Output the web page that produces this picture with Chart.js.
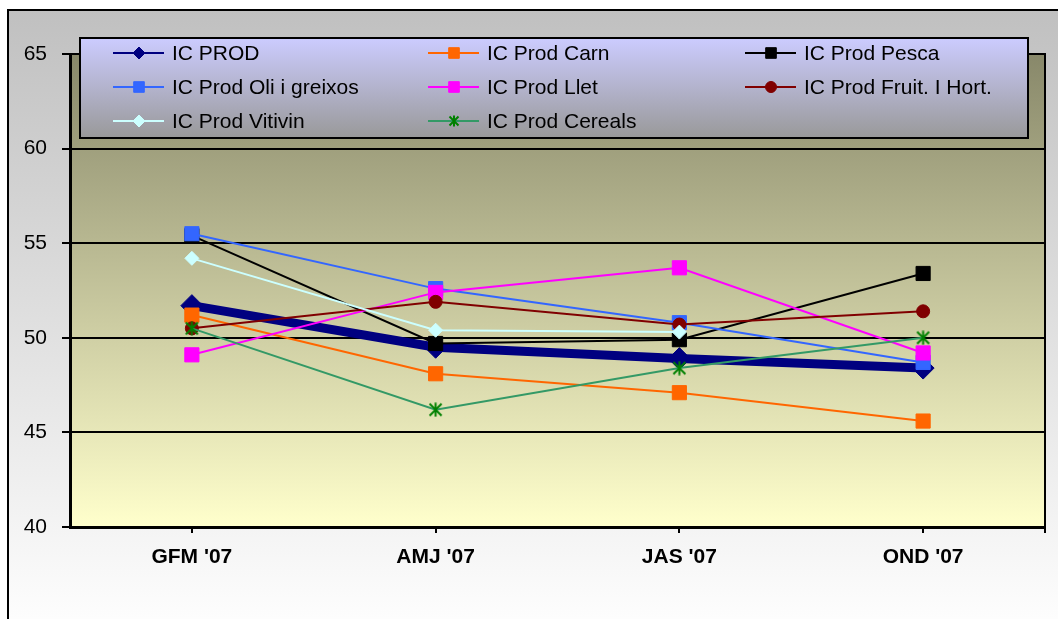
<!DOCTYPE html>
<html><head><meta charset="utf-8">
<script src="https://cdn.jsdelivr.net/npm/chart.js@4"></script>
<style>html,body{margin:0;padding:0;background:#fff;overflow:hidden}canvas{display:block}</style>
</head><body>
<canvas id="c" width="1058" height="619"></canvas>
<script>
const categories = ["GFM '07", "AMJ '07", "JAS '07", "OND '07"];
const yTicks = [40, 45, 50, 55, 60, 65];
const seriesNames = ["IC PROD", "IC Prod Carn", "IC Prod Pesca", "IC Prod Oli i greixos", "IC Prod Llet", "IC Prod Fruit. I Hort.", "IC Prod Vitivin", "IC Prod Cereals"];
const icProd   = [51.7, 49.5, 48.9, 48.4];
const carn     = [51.2, 48.1, 47.1, 45.6];
const pesca    = [55.4, 49.7, 49.9, 53.4];
const oli      = [55.5, 52.6, 50.8, 48.7];
const llet     = [49.1, 52.4, 53.7, 49.2];
const fruit    = [50.5, 51.9, 50.7, 51.4];
const vitivin  = [54.2, 50.4, 50.3, null];
const cereals  = [50.5, 46.2, 48.4, 50.0];

const FONT = "'Liberation Sans', Arial, sans-serif";

function starCanvas(size, color) {
  const c = document.createElement('canvas');
  c.width = size; c.height = size;
  const x = c.getContext('2d');
  x.strokeStyle = color; x.lineWidth = 2;
  const m = 1.5, s = size - 1.5;
  x.beginPath();
  x.moveTo(m, m); x.lineTo(s, s);
  x.moveTo(s, m); x.lineTo(m, s);
  x.moveTo(size / 2, 0.5); x.lineTo(size / 2, size - 0.5);
  x.stroke();
  return c;
}
const starBig = starCanvas(15, '#008000');
const starSmall = starCanvas(12, '#008000');

const styles = [
  {line: '#000080', fill: '#000080', w: 9, ps: 'rectRot', r: 11, lr: 6},
  {line: '#FF6600', fill: '#FF6600', w: 2, ps: 'rect', r: 10, lr: 7.5},
  {line: '#000000', fill: '#000000', w: 2, ps: 'rect', r: 10, lr: 7.5},
  {line: '#3366FF', fill: '#3366FF', w: 2, ps: 'rect', r: 10, lr: 7.5},
  {line: '#FF00FF', fill: '#FF00FF', w: 2, ps: 'rect', r: 10, lr: 7.5},
  {line: '#800000', fill: '#800000', w: 2, ps: 'circle', r: 6.5, lr: 5.5},
  {line: '#CCFFFF', fill: '#CCFFFF', w: 2, ps: 'rectRot', r: 7, lr: 6},
  {line: '#339966', fill: '#008000', w: 2, ps: 'star', r: 7, lr: 6}
];
const values = [icProd, carn, pesca, oli, llet, fruit, vitivin, cereals];

const datasets = values.map((v, i) => {
  const s = styles[i];
  return {
    label: seriesNames[i],
    data: v,
    borderColor: s.line,
    backgroundColor: s.fill,
    borderWidth: s.w,
    pointStyle: s.ps === 'star' ? starBig : s.ps,
    pointRadius: s.r,
    pointBackgroundColor: s.fill,
    pointBorderColor: s.fill,
    pointBorderWidth: 1,
    tension: 0,
    spanGaps: false,
    order: 10 - i
  };
});

const bgPlugin = {
  id: 'bg',
  beforeDraw(chart) {
    const {ctx, chartArea: a} = chart;
    ctx.save();
    const g = ctx.createLinearGradient(0, 10, 0, 619);
    g.addColorStop(0, '#c0c0c0');
    g.addColorStop(1, '#fdfdfd');
    ctx.fillStyle = g;
    ctx.fillRect(8, 10, 1050, 609);
    ctx.strokeStyle = '#000'; ctx.lineWidth = 2;
    ctx.beginPath(); ctx.moveTo(8, 620); ctx.lineTo(8, 10); ctx.lineTo(1060, 10); ctx.stroke();
    const g2 = ctx.createLinearGradient(0, a.top, 0, a.bottom);
    g2.addColorStop(0, '#88886a');
    g2.addColorStop(1, '#ffffcc');
    ctx.fillStyle = g2;
    ctx.fillRect(a.left, a.top, a.right - a.left, a.bottom - a.top);
    ctx.restore();
  },
  beforeDatasetsDraw(chart) {
    const {ctx, chartArea: a} = chart;
    ctx.save();
    ctx.strokeStyle = '#000'; ctx.lineWidth = 2;
    ctx.beginPath(); ctx.moveTo(a.left, a.top); ctx.lineTo(a.right, a.top); ctx.lineTo(a.right, a.bottom + 6); ctx.stroke();
    ctx.restore();
  }
};

function drawMarker(ctx, s, x, y) {
  ctx.fillStyle = s.fill; ctx.strokeStyle = s.fill; ctx.lineWidth = 1;
  const r = s.lr;
  if (s.ps === 'star') { ctx.drawImage(starSmall, x - 6, y - 6); return; }
  ctx.beginPath();
  if (s.ps === 'rect') { const h = r * Math.SQRT1_2; ctx.rect(x - h, y - h, 2 * h, 2 * h); }
  else if (s.ps === 'rectRot') { ctx.moveTo(x - r, y); ctx.lineTo(x, y - r); ctx.lineTo(x + r, y); ctx.lineTo(x, y + r); ctx.closePath(); }
  else if (s.ps === 'circle') { ctx.arc(x, y, r, 0, Math.PI * 2); }
  ctx.fill(); ctx.stroke();
}

const legendPlugin = {
  id: 'customLegend',
  afterDraw(chart) {
    const ctx = chart.ctx;
    const L = {x: 80, y: 38, w: 948, h: 100};
    ctx.save();
    const g = ctx.createLinearGradient(0, L.y, 0, L.y + L.h);
    g.addColorStop(0, '#ccccff');
    g.addColorStop(1, '#999999');
    ctx.fillStyle = g;
    ctx.fillRect(L.x, L.y, L.w, L.h);
    ctx.strokeStyle = '#000'; ctx.lineWidth = 2;
    ctx.strokeRect(L.x, L.y, L.w, L.h);
    const cols = [139, 454, 771];
    const rows = [53, 87, 121];
    ctx.font = '21px ' + FONT;
    ctx.textBaseline = 'middle';
    ctx.textAlign = 'left';
    seriesNames.forEach((name, i) => {
      const cx = cols[i % 3], cy = rows[Math.floor(i / 3)];
      const s = styles[i];
      ctx.strokeStyle = s.line; ctx.lineWidth = 2;
      ctx.beginPath(); ctx.moveTo(cx - 26, cy); ctx.lineTo(cx + 25, cy); ctx.stroke();
      drawMarker(ctx, s, cx, cy);
      ctx.fillStyle = '#000';
      ctx.fillText(name, cx + 33, cy + 1);
    });
    ctx.restore();
  }
};

new Chart(document.getElementById('c'), {
  type: 'line',
  data: {labels: categories, datasets},
  options: {
    responsive: false,
    animation: false,
    devicePixelRatio: 1,
    events: [],
    layout: {padding: {left: 0, top: 54, right: 13, bottom: 0}},
    plugins: {legend: {display: false}, tooltip: {enabled: false}},
    scales: {
      x: {
        type: 'category',
        offset: true,
        grid: {display: true, drawOnChartArea: false, drawTicks: true, tickLength: 6, color: '#000', lineWidth: 2, offset: false},
        border: {display: true, color: '#000', width: 3},
        ticks: {color: '#000', font: {family: FONT, size: 21, weight: 'bold'}, padding: 12, maxRotation: 0},
        afterFit(scale) { scale.height = 619 - 527; }
      },
      y: {
        min: 40, max: 65,
        afterBuildTicks(scale) { scale.ticks = yTicks.map(v => ({value: v})); },
        grid: {color: '#000', lineWidth: 2, drawTicks: true, tickLength: 8},
        border: {display: true, color: '#000', width: 3},
        ticks: {color: '#000', font: {family: FONT, size: 21}, padding: 15},
        afterFit(scale) { scale.width = 70; }
      }
    }
  },
  plugins: [bgPlugin, legendPlugin]
});
</script></body></html>
